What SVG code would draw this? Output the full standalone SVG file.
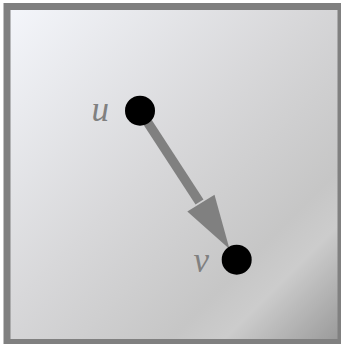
<svg xmlns="http://www.w3.org/2000/svg" width="341" height="344" viewBox="0 0 341 344">
  <defs>
    <linearGradient id="bg" x1="0" y1="0" x2="1" y2="1">
      <stop offset="0" stop-color="#f4f6fb"/>
      <stop offset="0.45" stop-color="#d8d8da"/>
      <stop offset="0.74" stop-color="#c6c6c6"/>
      <stop offset="0.82" stop-color="#cccccc"/>
      <stop offset="1" stop-color="#989898"/>
    </linearGradient>
  </defs>
  <style>
    .dot { fill: #000000; }
    .lbl { font-family: "Liberation Serif", "Times New Roman", serif; font-style: italic; font-size: 35px; fill: #808080; }
    .edge { stroke: #808080; stroke-width: 9.5; fill: none; }
    .head { fill: #808080; stroke: none; }
  </style>
  <rect x="7" y="6.5" width="334" height="336" fill="url(#bg)" stroke="#808080" stroke-width="7"/>
  <g id="connectors">
    <line class="edge" x1="140" y1="110.7" x2="199.5" y2="202"/>
    <polygon class="head" points="229.5,249 187.3,211.5 214.5,194.8"/>
  </g>
  <g id="node-u">
    <circle class="dot" cx="140" cy="110.7" r="15"/>
    <text class="lbl" x="109" y="121" text-anchor="end">u</text>
  </g>
  <g id="node-v">
    <circle class="dot" cx="236.7" cy="259.7" r="15"/>
    <text class="lbl" x="209" y="271.5" text-anchor="end">v</text>
  </g>
</svg>
